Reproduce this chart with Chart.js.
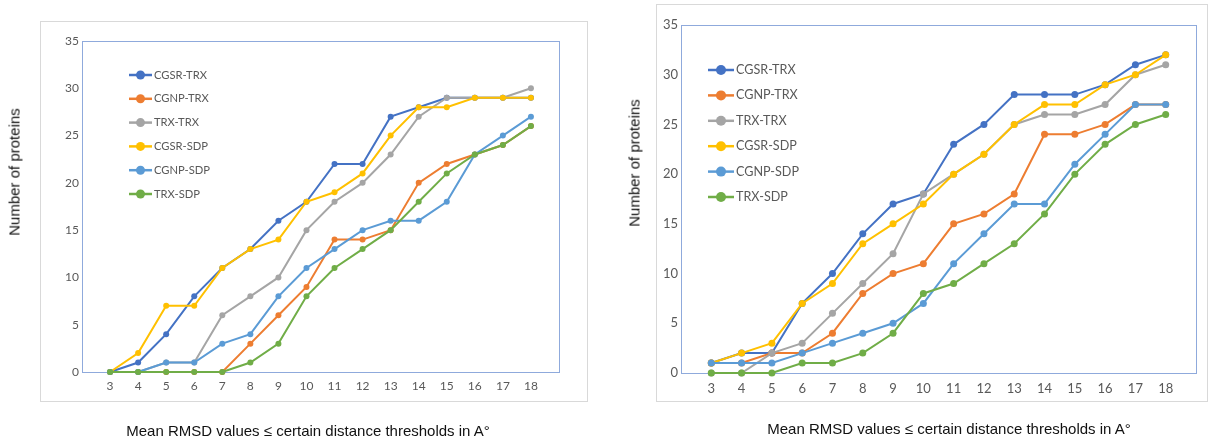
<!DOCTYPE html>
<html lang="en">
<head>
    <meta charset="UTF-8">
    <title>Mean RMSD thresholds</title>
    <script src="https://cdnjs.cloudflare.com/ajax/libs/Chart.js/4.4.3/chart.umd.min.js"></script>
    <style>
        body {
            margin: 0;
            background: #fff;
            width: 1208px;
            height: 438px;
            position: relative;
            overflow: hidden;
            font-family: "Liberation Sans", Arial, sans-serif;
        }
        .box {
            position: absolute;
            border: 1px solid #d9d9d9;
            box-sizing: border-box;
        }
        .wrap {
            position: absolute;
            top: 0;
            height: 438px;
        }
        .xtitle, .ytitle {
            position: absolute;
            font-size: 15px;
            color: #111;
            white-space: nowrap;
        }
        .xtitle { transform: translate(-50%, -50%); }
        .ytitle { transform: translate(-50%, -50%) rotate(-90deg); }
    </style>
</head>
<body>
    <div class="box" style="left:40px; top:21px; width:548px; height:381px;"></div>
    <div class="box" style="left:656px; top:4px; width:552px; height:398px;"></div>

    <div class="wrap" style="left:0; width:600px;"><canvas id="leftChart"></canvas></div>
    <div class="wrap" style="left:610px; width:598px;"><canvas id="rightChart"></canvas></div>

    <div class="ytitle" style="left:14px; top:172px;">Number of proteins</div>
    <div class="ytitle" style="left:634px; top:163px;">Number of proteins</div>
    <div class="xtitle" style="left:308px; top:430px;">Mean RMSD values ≤ certain distance thresholds in A°</div>
    <div class="xtitle" style="left:949px; top:428px;">Mean RMSD values ≤ certain distance thresholds in A°</div>

    <script>
        // thresholds on the x axis
        const thresholds = [3, 4, 5, 6, 7, 8, 9, 10, 11, 12, 13, 14, 15, 16, 17, 18];
        const seriesNames = ['CGSR-TRX', 'CGNP-TRX', 'TRX-TRX', 'CGSR-SDP', 'CGNP-SDP', 'TRX-SDP'];
        const seriesColors = ['#4472c4', '#ed7d31', '#a5a5a5', '#ffc000', '#5b9bd5', '#70ad47'];
        const yTicks = [0, 5, 10, 15, 20, 25, 30, 35];

        // left chart
        const leftCgsrTrx = [0, 1, 4, 8, 11, 13, 16, 18, 22, 22, 27, 28, 29, 29, 29, 29];
        const leftCgnpTrx = [0, 0, 0, 0, 0, 3, 6, 9, 14, 14, 15, 20, 22, 23, 24, 26];
        const leftTrxTrx  = [0, 0, 1, 1, 6, 8, 10, 15, 18, 20, 23, 27, 29, 29, 29, 30];
        const leftCgsrSdp = [0, 2, 7, 7, 11, 13, 14, 18, 19, 21, 25, 28, 28, 29, 29, 29];
        const leftCgnpSdp = [0, 0, 1, 1, 3, 4, 8, 11, 13, 15, 16, 16, 18, 23, 25, 27];
        const leftTrxSdp  = [0, 0, 0, 0, 0, 1, 3, 8, 11, 13, 15, 18, 21, 23, 24, 26];

        // right chart
        const rightCgsrTrx = [1, 2, 2, 7, 10, 14, 17, 18, 23, 25, 28, 28, 28, 29, 31, 32];
        const rightCgnpTrx = [1, 1, 2, 2, 4, 8, 10, 11, 15, 16, 18, 24, 24, 25, 27, 27];
        const rightTrxTrx  = [0, 0, 2, 3, 6, 9, 12, 18, 20, 22, 25, 26, 26, 27, 30, 31];
        const rightCgsrSdp = [1, 2, 3, 7, 9, 13, 15, 17, 20, 22, 25, 27, 27, 29, 30, 32];
        const rightCgnpSdp = [1, 1, 1, 2, 3, 4, 5, 7, 11, 14, 17, 17, 21, 24, 27, 27];
        const rightTrxSdp  = [0, 0, 0, 1, 1, 2, 4, 8, 9, 11, 13, 16, 20, 23, 25, 26];

        const tickColor = '#595959';

        // plot area border (Excel style)
        const plotBorder = {
            id: 'plotBorder',
            beforeDatasetsDraw(chart) {
                const a = chart.chartArea;
                const ctx = chart.ctx;
                ctx.save();
                ctx.strokeStyle = '#8faadc';
                ctx.lineWidth = 1;
                ctx.strokeRect(Math.round(a.left) + 0.5, Math.round(a.top) + 0.5,
                    Math.round(a.right - a.left), Math.round(a.bottom - a.top));
                ctx.restore();
            }
        };

        // legend drawn inside the plot area, top-left
        const insideLegend = {
            id: 'insideLegend',
            afterDraw(chart, args, opts) {
                const ctx = chart.ctx;
                ctx.save();
                ctx.font = opts.fontSize + 'px Lato, "Open Sans", sans-serif';
                ctx.textBaseline = 'middle';
                chart.data.datasets.forEach((ds, i) => {
                    const y = opts.y + i * opts.rowGap;
                    ctx.strokeStyle = ds.borderColor;
                    ctx.lineWidth = 2.5;
                    ctx.beginPath();
                    ctx.moveTo(opts.x, y);
                    ctx.lineTo(opts.x + opts.lineLen, y);
                    ctx.stroke();
                    ctx.fillStyle = ds.borderColor;
                    ctx.beginPath();
                    ctx.arc(opts.x + opts.lineLen / 2, y, opts.radius, 0, Math.PI * 2);
                    ctx.fill();
                    ctx.fillStyle = tickColor;
                    ctx.fillText(ds.label, opts.x + opts.lineLen + 2, y);
                });
                ctx.restore();
            }
        };

        function makeChart(id, series, cfg) {
            const datasets = series.map((vals, i) => ({
                label: seriesNames[i],
                data: thresholds.map((t, j) => ({ x: t, y: vals[j] })),
                borderColor: seriesColors[i],
                backgroundColor: seriesColors[i],
                pointBackgroundColor: seriesColors[i],
                pointBorderColor: seriesColors[i],
                borderWidth: 2,
                pointRadius: cfg.pointRadius,
                pointBorderWidth: 0,
                tension: 0,
                clip: false,
                order: series.length - i   // later series on top, like Excel
            }));

            return new Chart(document.getElementById(id), {
                type: 'line',
                data: { datasets: datasets },
                plugins: [plotBorder, insideLegend],
                options: {
                    responsive: true,
                    maintainAspectRatio: false,
                    animation: false,
                    layout: { padding: cfg.padding },
                    plugins: {
                        legend: { display: false },
                        tooltip: { enabled: false },
                        insideLegend: cfg.legend
                    },
                    scales: {
                        x: {
                            type: 'linear',
                            min: 2,
                            max: 19,
                            grid: { display: false, drawTicks: false },
                            border: { display: false },
                            afterBuildTicks: s => { s.ticks = thresholds.map(v => ({ value: v })); },
                            afterFit: s => { s.height = 30; },
                            ticks: {
                                color: tickColor,
                                padding: cfg.xPad,
                                autoSkip: false,
                                maxRotation: 0,
                                font: { family: 'Lato', size: cfg.tickSize }
                            }
                        },
                        y: {
                            min: 0,
                            max: 35,
                            grid: { display: false, drawTicks: false },
                            border: { display: false },
                            afterBuildTicks: s => { s.ticks = yTicks.map(v => ({ value: v })); },
                            afterFit: s => { s.width = cfg.yWidth; },
                            ticks: {
                                color: tickColor,
                                padding: 3,
                                font: { family: 'Lato', size: cfg.tickSize }
                            }
                        }
                    }
                }
            });
        }

        makeChart('leftChart',
            [leftCgsrTrx, leftCgnpTrx, leftTrxTrx, leftCgsrSdp, leftCgnpSdp, leftTrxSdp], {
                padding: { left: 0, top: 41, right: 41, bottom: 36 },
                yWidth: 82,
                xPad: 7,
                tickSize: 12,
                pointRadius: 3,
                legend: { x: 129, y: 75, rowGap: 23.8, lineLen: 23, radius: 4.5, fontSize: 11.2 }
            });

        makeChart('rightChart',
            [rightCgsrTrx, rightCgnpTrx, rightTrxTrx, rightCgsrSdp, rightCgnpSdp, rightTrxSdp], {
                padding: { left: 0, top: 25, right: 12, bottom: 35 },
                yWidth: 71,
                xPad: 8,
                tickSize: 13,
                pointRadius: 3.5,
                legend: { x: 98, y: 70, rowGap: 25.4, lineLen: 26, radius: 5, fontSize: 12.6 }
            });
    </script>
</body>
</html>
